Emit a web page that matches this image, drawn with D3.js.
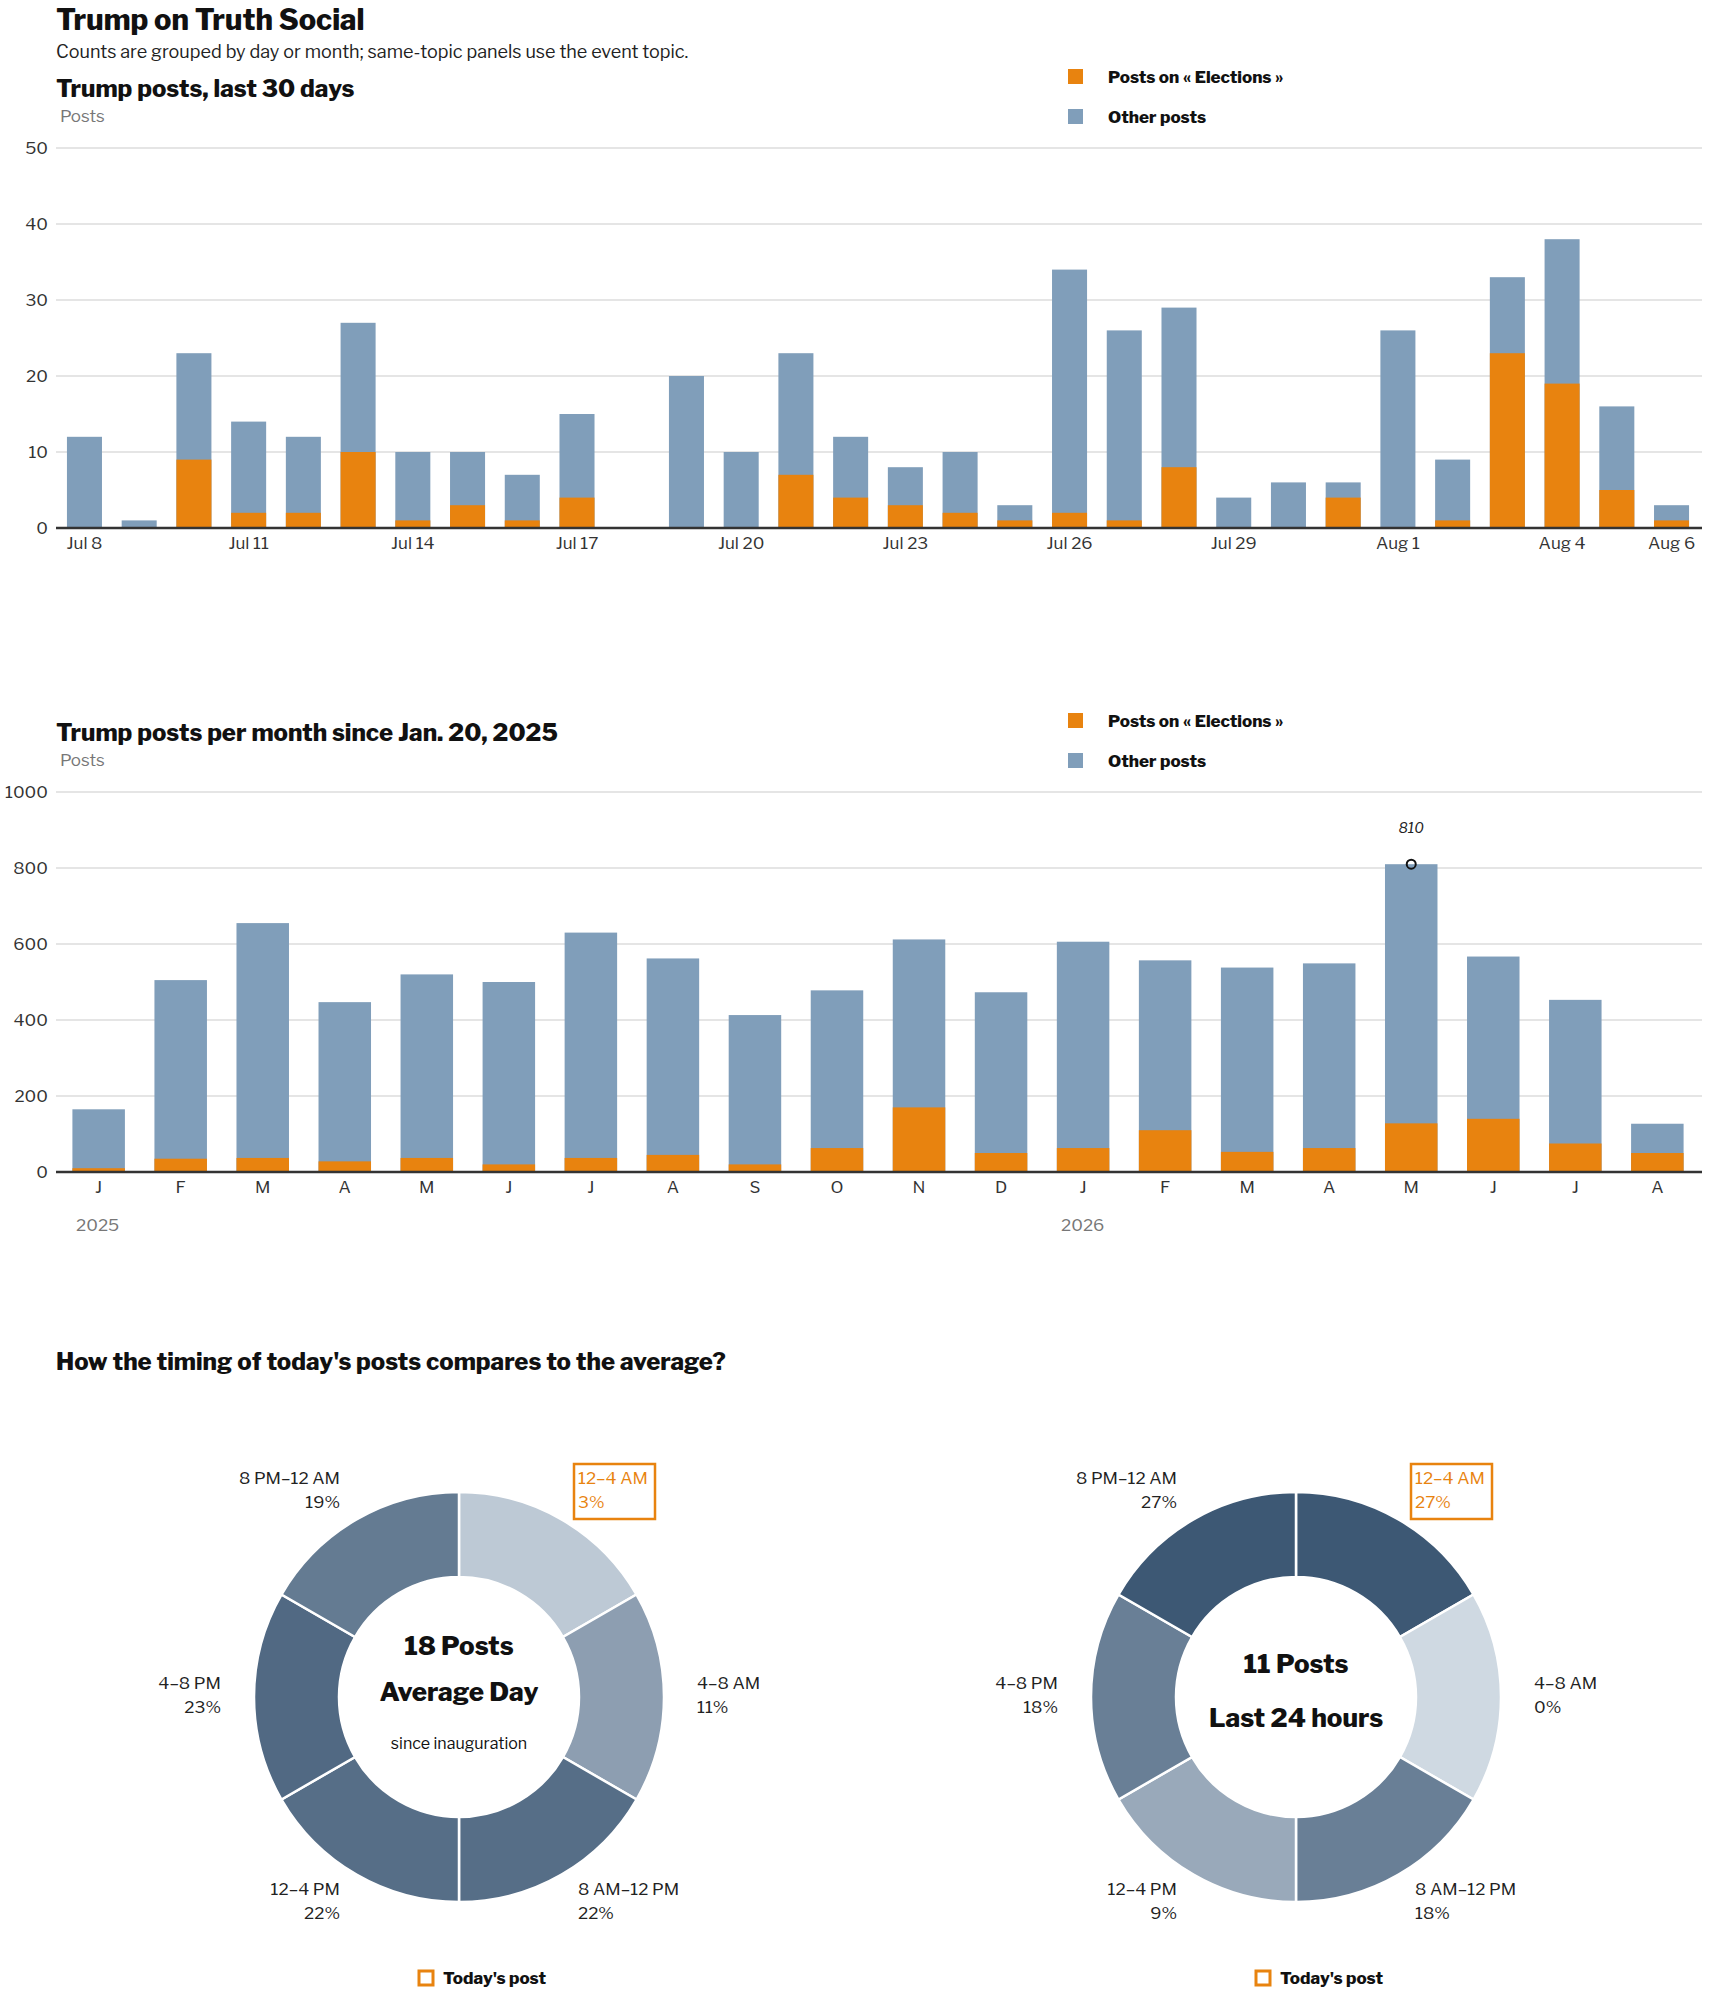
<!DOCTYPE html>
<html><head><meta charset="utf-8">
<script src="https://cdn.jsdelivr.net/npm/d3@7"></script>
<style>body{margin:0;background:#fff}svg{display:block}text{font-family:"Libre Franklin","Roboto","Noto Sans",sans-serif}</style>
</head><body><svg id="c" width="1710" height="1993"></svg>
<script>
const days=["Jul 8","Jul 9","Jul 10","Jul 11","Jul 12","Jul 13","Jul 14","Jul 15","Jul 16","Jul 17","Jul 18","Jul 19","Jul 20","Jul 21","Jul 22","Jul 23","Jul 24","Jul 25","Jul 26","Jul 27","Jul 28","Jul 29","Jul 30","Jul 31","Aug 1","Aug 2","Aug 3","Aug 4","Aug 5","Aug 6"];
const dayTotal=[12,1,23,14,12,27,10,10,7,15,0,20,10,23,12,8,10,3,34,26,29,4,6,6,26,9,33,38,16,3];
const dayElect=[0,0,9,2,2,10,1,3,1,4,0,0,0,7,4,3,2,1,2,1,8,0,0,4,0,1,23,19,5,1];
const dayTicks=["Jul 8","Jul 11","Jul 14","Jul 17","Jul 20","Jul 23","Jul 26","Jul 29","Aug 1","Aug 4","Aug 6"];
const months=["J","F","M","A","M","J","J","A","S","O","N","D","J","F","M","A","M","J","J","A"];
const monthTotal=[165,505,655,447,520,500,630,562,413,478,612,473,606,557,538,549,810,567,453,127];
const monthElect=[10,35,37,28,37,20,37,45,20,63,170,50,63,110,53,63,128,140,75,50];
const slots=["12–4 AM","4–8 AM","8 AM–12 PM","12–4 PM","4–8 PM","8 PM–12 AM"];
const avgPct=[3,11,22,22,23,19];
const dayPct=[27,0,18,9,18,27];
const ORANGE="#e8830f",BLUE="#809eba";
const svg=d3.select("#c");
const T=(x,y,s,o={})=>{const t=svg.append("text").attr("x",x).attr("y",y).text(s).attr("font-size",o.size||17).attr("fill",o.fill||"#222").attr("font-weight",o.weight||400).attr("text-anchor",o.anchor||"start");if(o.style)t.attr("font-style",o.style);return t;};
T(56,30,"Trump on Truth Social",{size:29,weight:800,fill:"#111"});
T(56,58,"Counts are grouped by day or month; same-topic panels use the event topic.",{size:18});
function legend(y){
  svg.append("rect").attr("x",1068).attr("y",y-8).attr("width",15).attr("height",15).attr("fill",ORANGE);
  T(1108,y+6,"Posts on « Elections »",{size:17,weight:800,fill:"#111"});
  svg.append("rect").attr("x",1068).attr("y",y+32).attr("width",15).attr("height",15).attr("fill",BLUE);
  T(1108,y+46,"Other posts",{size:17,weight:800,fill:"#111"});
}
function bars(cats,tot,el,top,bot,max,step){
  const x=d3.scaleBand().domain(d3.range(cats.length)).range([56,1700]).paddingInner(0.36).paddingOuter(0.2);
  const y=d3.scaleLinear().domain([0,max]).range([bot,top]);
  const g=svg.append("g");
  y.ticks(max/step).forEach(v=>{
    g.append("line").attr("x1",56).attr("x2",1702).attr("y1",y(v)).attr("y2",y(v)).attr("stroke","#dcdcdc").attr("stroke-width",1.3);
    T(48,y(v)+6,v,{size:17,anchor:"end",fill:"#333"});
  });
  cats.forEach((c,i)=>{
    g.append("rect").attr("x",x(i)).attr("width",x.bandwidth()).attr("y",y(tot[i])).attr("height",y(0)-y(tot[i])).attr("fill",BLUE);
    g.append("rect").attr("x",x(i)).attr("width",x.bandwidth()).attr("y",y(el[i])).attr("height",y(0)-y(el[i])).attr("fill",ORANGE);
  });
  g.append("line").attr("x1",56).attr("x2",1702).attr("y1",bot).attr("y2",bot).attr("stroke","#333").attr("stroke-width",2.5);
  return {x,y};
}
T(56,97,"Trump posts, last 30 days",{size:24,weight:800,fill:"#111"});
T(60,122,"Posts",{size:17,fill:"#777"});
legend(77);
const c1=bars(days,dayTotal,dayElect,148,528,50,10);
days.forEach((d,i)=>{if(dayTicks.includes(d))T(c1.x(i)+c1.x.bandwidth()/2,549,d,{size:17,anchor:"middle",fill:"#333"});});
T(56,741,"Trump posts per month since Jan. 20, 2025",{size:24,weight:800,fill:"#111"});
T(60,766,"Posts",{size:17,fill:"#777"});
legend(721);
const c2=bars(months,monthTotal,monthElect,792,1172,1000,200);
months.forEach((m,i)=>T(c2.x(i)+c2.x.bandwidth()/2,1193,m,{size:17,anchor:"middle",fill:"#333"}));
T(76,1231,"2025",{size:17,fill:"#777"});T(1061,1231,"2026",{size:17,fill:"#777"});
const mi=monthTotal.indexOf(d3.max(monthTotal));
const mx=c2.x(mi)+c2.x.bandwidth()/2;
svg.append("circle").attr("cx",mx).attr("cy",c2.y(monthTotal[mi])).attr("r",4.5).attr("fill","none").attr("stroke","#111").attr("stroke-width",2);
T(mx,833,monthTotal[mi],{size:14,anchor:"middle",style:"italic",fill:"#222"}).attr("font-family","DejaVu Serif, serif");
T(56,1370,"How the timing of today's posts compares to the average?",{size:24,weight:800,fill:"#111"});
const color=d3.scaleLinear().domain([0,12,27]).range(["#cfd9e2","#8799ac","#3d5874"]);
function donut(cx,cy,pct,lines){
  const pie=d3.pie().value(1).sort(null);
  const arc=d3.arc().innerRadius(120).outerRadius(205);
  const g=svg.append("g").attr("transform",`translate(${cx},${cy})`);
  g.selectAll("path").data(pie(pct)).join("path").attr("d",arc).attr("fill",d=>color(d.data)).attr("stroke","#fff").attr("stroke-width",2.5);
  const pos=[[119,-213,"start"],[238,-8,"start"],[119,198,"start"],[-119,198,"end"],[-238,-8,"end"],[-119,-213,"end"]];
  slots.forEach((s,i)=>{
    const [dx,dy,a]=pos[i];const col=i===0?ORANGE:"#222";
    T(cx+dx,cy+dy,s,{size:17,anchor:a,fill:col});
    T(cx+dx,cy+dy+24,pct[i]+"%",{size:17,anchor:a,fill:col});
    if(i===0)svg.append("rect").attr("x",cx+dx-4).attr("y",cy+dy-20).attr("width",81).attr("height",55).attr("fill","none").attr("stroke",ORANGE).attr("stroke-width",2.5);
  });
  lines.forEach(l=>T(cx,cy+l[1],l[0],{size:l[2],weight:l[3],anchor:"middle",fill:"#111"}));
  svg.append("rect").attr("x",cx-40).attr("y",cy+274).attr("width",14).attr("height",14).attr("fill","none").attr("stroke",ORANGE).attr("stroke-width",3);
  T(cx-16,cy+287,"Today's post",{size:17,weight:800,fill:"#111"});
}
donut(459,1697,avgPct,[["18 Posts",-42,26,800],["Average Day",4,26,800],["since inauguration",52,16,400]]);
donut(1296,1697,dayPct,[["11 Posts",-24,26,800],["Last 24 hours",30,26,800]]);
</script></body></html>
